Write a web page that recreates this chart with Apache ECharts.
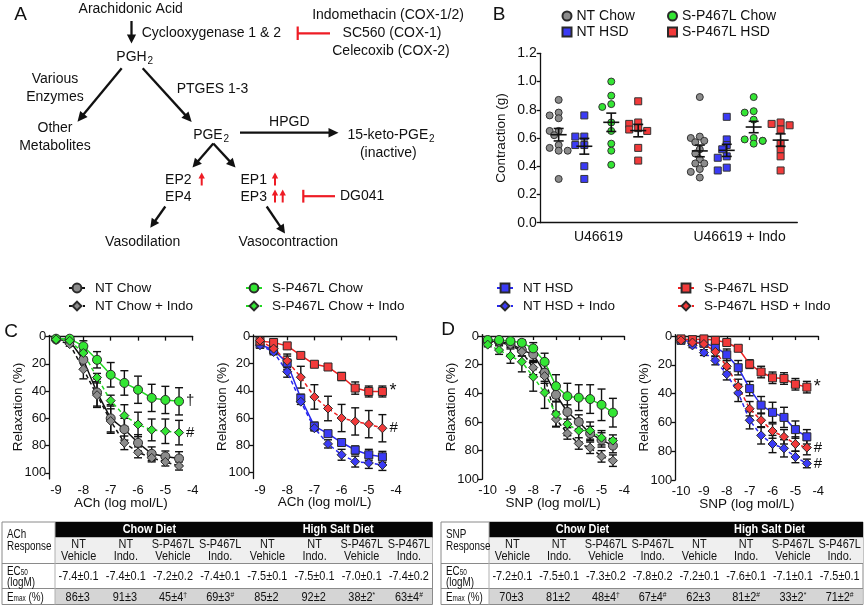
<!DOCTYPE html>
<html>
<head>
<meta charset="utf-8">
<script src="https://cdn.jsdelivr.net/npm/echarts@6/dist/echarts.min.js"></script>
<style>
html, body { margin: 0; padding: 0; background: #fff; }
#chart { width: 865px; height: 606px; }
</style>
</head>
<body>
<div id="chart"></div>
<script>
var FONT = 'Liberation Sans, Arial, Helvetica, sans-serif';

// ---- panel B : contraction to U46619 (g) ----
var bGroups = ['U46619', 'U46619 + Indo'];
var bNtChow      = [0.87, 0.78, 0.76, 0.74, 0.65, 0.65, 0.62, 0.55, 0.53, 0.51, 0.51, 0.31];
var bNtHsd       = [0.76, 0.61, 0.61, 0.55, 0.55, 0.40, 0.31];
var bSpChow      = [1.00, 0.90, 0.84, 0.82, 0.71, 0.65, 0.56, 0.51, 0.41];
var bSpHsd       = [0.86, 0.71, 0.70, 0.67, 0.66, 0.65, 0.53, 0.44];
var bNtChowIndo  = [0.89, 0.61, 0.60, 0.58, 0.57, 0.52, 0.49, 0.45, 0.42, 0.42, 0.38, 0.36, 0.32];
var bNtHsdIndo   = [0.75, 0.59, 0.55, 0.52, 0.47, 0.46, 0.39, 0.37];
var bSpChowIndo  = [0.89, 0.79, 0.78, 0.73, 0.60, 0.59, 0.58, 0.58, 0.56];
var bSpHsdIndo   = [0.71, 0.70, 0.69, 0.66, 0.56, 0.52, 0.47, 0.37];

// ---- panels C/D : relaxation (%) ----
var achDoses = [-9, -8.5, -8, -7.5, -7, -6.5, -6, -5.5, -5, -4.5];
var snpDoses = [-10, -9.5, -9, -8.5, -8, -7.5, -7, -6.5, -6, -5.5, -5, -4.5];

var achNtChow        = [2, 3, 17, 41, 60, 68, 78, 86, 88, 89.5];
var achNtChowSem     = [1, 1.5, 7, 10, 10, 8, 6, 5, 4, 5];
var achNtChowIndo    = [2.5, 5.5, 24, 43, 62, 78, 85, 89, 92, 95];
var achNtChowIndoSem = [1, 1.5, 7, 9, 9, 5, 4, 3, 3, 3];
var achSpChow        = [1.5, 1.5, 7, 17, 28, 34, 39, 45, 46.5, 47.5];
var achSpChowSem     = [1, 1, 4, 6, 9, 9, 10, 10, 10, 10];
var achSpChowIndo    = [2, 3, 12, 30, 47, 58, 64.5, 68.5, 69.5, 70.5];
var achSpChowIndoSem = [1, 1, 3, 3, 4, 8, 9, 8, 9, 9];

var achNtHsd         = [6, 10, 19.5, 45.5, 66, 71.5, 78, 83.5, 87, 88.5];
var achNtHsdSem      = [1.5, 2, 5, 3, 3, 2, 2, 3, 4, 4];
var achNtHsdIndo     = [6.5, 11.5, 26, 48, 67.5, 79, 87, 92, 93, 94.5];
var achNtHsdIndoSem  = [1.5, 2, 4, 2, 2, 3, 4, 4, 4, 4];
var achSpHsd         = [3.5, 4.5, 7, 14, 20.5, 22.5, 29.5, 38, 40.5, 40.5];
var achSpHsdSem      = [1, 1, 1.5, 2, 2, 2, 3, 4.5, 4, 4];
var achSpHsdIndo     = [3, 9, 18, 30, 44.5, 53, 60, 62.5, 64.5, 67.5];
var achSpHsdIndoSem  = [1, 2, 5, 8, 9, 9, 10, 10, 10, 10];

var snpNtChow        = [3.5, 4, 5, 9.8, 12.8, 25.6, 41, 53, 60, 68, 72.5, 76.5];
var snpNtChowSem     = [1, 1.5, 2, 4, 5, 6, 5, 5, 5, 5, 5, 5];
var snpNtChowIndo    = [4.5, 4.5, 6, 11, 22, 28, 58, 68, 75, 78, 84, 87];
var snpNtChowIndoSem = [1.5, 1.5, 2, 3, 5, 5, 5, 4, 4, 4, 4, 4];
var snpSpChow        = [2.8, 2.8, 3.5, 4.7, 8.6, 18, 35, 42, 43, 44, 48, 53.5];
var snpSpChowSem     = [1, 1, 1.5, 2, 4, 6, 8, 9, 9, 10, 11, 10];
var snpSpChowIndo    = [6, 9.8, 14, 18, 28.5, 39.5, 54.5, 61.5, 66, 66, 71, 73];
var snpSpChowIndoSem = [1.5, 3, 5, 7, 10, 11, 9, 8, 8, 6, 5, 4];

var snpNtHsd         = [3, 4, 5, 7.5, 13, 22, 36.5, 48, 53, 56.5, 65, 70];
var snpNtHsdSem      = [1, 1.5, 2, 2, 4, 5, 5, 6, 7, 7, 6, 5];
var snpNtHsdIndo     = [3, 6.5, 11.5, 17, 26.5, 39.5, 58.5, 69, 75, 78, 84, 88.5];
var snpNtHsdIndoSem  = [1, 1.5, 2, 3, 4, 6, 6, 6, 6, 6, 4, 3];
var snpSpHsd         = [2, 2.5, 2, 3, 4.5, 8.5, 19.5, 25, 29, 29.5, 33.5, 35.5];
var snpSpHsdSem      = [1, 1, 1, 1.5, 1.5, 2, 3, 4, 4, 4, 4, 4];
var snpSpHsdIndo     = [3, 4.5, 5.5, 11, 21, 35, 50.5, 58.5, 66, 70, 75, 77.5];
var snpSpHsdIndoSem  = [1, 1.5, 2, 3, 4, 5, 5, 5, 5, 5, 5, 5];

var achTicks = [-9, -8, -7, -6, -5, -4];
var snpTicks = [-10, -9, -8, -7, -6, -5, -4];
var relaxTicks = [0, 20, 40, 60, 80, 100];

// ---- tables ----
var tableDiets = ['Chow Diet', 'High Salt Diet'];
var tableColTop = ['NT', 'NT', 'S-P467L', 'S-P467L', 'NT', 'NT', 'S-P467L', 'S-P467L'];
var tableColBot = ['Vehicle', 'Indo.', 'Vehicle', 'Indo.', 'Vehicle', 'Indo.', 'Vehicle', 'Indo.'];
var achEc50 = ['-7.4±0.1', '-7.4±0.1', '-7.2±0.2', '-7.4±0.1', '-7.5±0.1', '-7.5±0.1', '-7.0±0.1', '-7.4±0.2'];
var achEmax = ['86±3', '91±3', '45±4', '69±3', '85±2', '92±2', '38±2', '63±4'];
var achEmaxMark = ['', '', '†', '#', '', '', '*', '#'];
var snpEc50 = ['-7.2±0.1', '-7.5±0.1', '-7.3±0.2', '-7.8±0.2', '-7.2±0.1', '-7.6±0.1', '-7.1±0.1', '-7.5±0.1'];
var snpEmax = ['70±3', '81±2', '48±4', '67±4', '62±3', '81±2', '33±2', '71±2'];
var snpEmaxMark = ['', '', '†', '#', '', '#', '*', '#'];

var styles = {
  'NT Chow':             { symbol: 'circle',  fill: '#8c8c8c', line: '#111111', dash: false },
  'NT Chow + Indo':      { symbol: 'diamond', fill: '#8c8c8c', line: '#111111', dash: true },
  'S-P467L Chow':        { symbol: 'circle',  fill: '#33e633', line: '#22d822', dash: false },
  'S-P467L Chow + Indo': { symbol: 'diamond', fill: '#33e633', line: '#22d822', dash: true },
  'NT HSD':              { symbol: 'rect',    fill: '#3b3bf5', line: '#2828ee', dash: false },
  'NT HSD + Indo':       { symbol: 'diamond', fill: '#3b3bf5', line: '#2828ee', dash: true },
  'S-P467L HSD':         { symbol: 'rect',    fill: '#f23a3a', line: '#ee2020', dash: false },
  'S-P467L HSD + Indo':  { symbol: 'diamond', fill: '#f23a3a', line: '#ee2020', dash: true }
};

function curve(name, axis, doses, vals, mark) {
  var s = styles[name];
  var ser = {
    type: 'line', name: name, xAxisIndex: axis, yAxisIndex: axis,
    data: doses.map(function (d, i) { return [d, vals[i]]; }),
    symbol: s.symbol, symbolSize: s.symbol === 'diamond' ? 9 : (s.symbol === 'rect' ? 8 : 9),
    showAllSymbol: true, z: 3,
    lineStyle: { color: s.line, width: 1.5, type: s.dash ? [4, 3] : 'solid' },
    itemStyle: { color: s.fill, borderColor: '#2a2a2a', borderWidth: 1 },
    emphasis: { disabled: true }
  };
  if (mark) {
    ser.endLabel = { show: true, formatter: mark, distance: 7, fontSize: mark === '*' ? 18 : 15, color: '#111', fontFamily: FONT };
  }
  return ser;
}

function errBars(axis, doses, sets) {
  var data = [];
  sets.forEach(function (s) {
    doses.forEach(function (d, i) { data.push([d, s[0][i], s[1][i]]); });
  });
  return {
    type: 'custom', xAxisIndex: axis, yAxisIndex: axis, z: 2, silent: true,
    data: data, encode: { x: 0, y: 1 },
    renderItem: function (params, api) {
      var x = api.value(0), y = api.value(1), e = api.value(2);
      var a = api.coord([x, y - e]), b = api.coord([x, y + e]);
      var st = { stroke: '#111', lineWidth: 1.4 };
      return { type: 'group', children: [
        { type: 'line', shape: { x1: a[0], y1: a[1], x2: b[0], y2: b[1] }, style: st },
        { type: 'line', shape: { x1: a[0] - 4, y1: a[1], x2: a[0] + 4, y2: a[1] }, style: st },
        { type: 'line', shape: { x1: b[0] - 4, y1: b[1], x2: b[0] + 4, y2: b[1] }, style: st }
      ] };
    }
  };
}

// beeswarm-ish spread for panel B dots
var B_PX_X = 25.66, B_PX_Y = 141.2;
function swarm(values, center) {
  var placed = [], out = [];
  var order = values.map(function (v, i) { return i; }).sort(function (a, b) { return values[b] - values[a]; });
  var steps = [0, -1, 1, -2, 2];
  order.forEach(function (i) {
    var v = values[i];
    for (var k = 0; k < steps.length; k++) {
      var dx = steps[k] * 4.5;
      var ok = placed.every(function (p) {
        var ddx = p[0] - dx, ddy = (p[1] - v) * B_PX_Y;
        return ddx * ddx + ddy * ddy >= 30;
      });
      if (ok || k === steps.length - 1) {
        placed.push([dx, v]);
        out.push([center + dx / B_PX_X, v]);
        break;
      }
    }
  });
  return out;
}
function meanSem(arr) {
  var n = arr.length, m = arr.reduce(function (a, b) { return a + b; }, 0) / n;
  var ss = arr.reduce(function (a, b) { return a + (b - m) * (b - m); }, 0);
  return [m, Math.sqrt(ss / (n - 1)) / Math.sqrt(n)];
}

var bSets = [
  ['NT Chow', bNtChow, bNtChowIndo, [0.7, 6.2]],
  ['NT HSD', bNtHsd, bNtHsdIndo, [1.7, 7.25]],
  ['S-P467L Chow', bSpChow, bSpChowIndo, [2.75, 8.3]],
  ['S-P467L HSD', bSpHsd, bSpHsdIndo, [3.8, 9.35]]
];
var bSeries = [], bMeans = [];
bSets.forEach(function (s) {
  var st = styles[s[0]];
  bSeries.push({
    type: 'scatter', name: s[0], xAxisIndex: 0, yAxisIndex: 0, z: 3,
    data: swarm(s[1], s[3][0]).concat(swarm(s[2], s[3][1])),
    symbol: st.symbol, symbolSize: 7,
    itemStyle: { color: st.fill, borderColor: '#333', borderWidth: 1, opacity: 1 },
    emphasis: { disabled: true }
  });
  var a = meanSem(s[1]), b = meanSem(s[2]);
  bMeans.push([s[3][0], a[0], a[1]], [s[3][1], b[0], b[1]]);
});
bSeries.push({
  type: 'custom', xAxisIndex: 0, yAxisIndex: 0, z: 4, silent: true,
  data: bMeans, encode: { x: 0, y: 1 },
  renderItem: function (params, api) {
    var x = api.value(0), m = api.value(1), e = api.value(2);
    var c = api.coord([x, m]), a = api.coord([x, m - e]), b = api.coord([x, m + e]);
    var st = { stroke: '#111', lineWidth: 1.6 };
    return { type: 'group', children: [
      { type: 'line', shape: { x1: c[0] - 8, y1: c[1], x2: c[0] + 8, y2: c[1] }, style: st },
      { type: 'line', shape: { x1: a[0], y1: a[1], x2: b[0], y2: b[1] }, style: st },
      { type: 'line', shape: { x1: a[0] - 5, y1: a[1], x2: a[0] + 5, y2: a[1] }, style: st },
      { type: 'line', shape: { x1: b[0] - 5, y1: b[1], x2: b[0] + 5, y2: b[1] }, style: st }
    ] };
  }
});

// ---- axes helpers ----
var axisLine = { show: true, lineStyle: { color: '#111', width: 1.3 } };
var axisTick = { show: true, length: 4, lineStyle: { color: '#111', width: 1.3 } };
function doseAxis(idx, min, ticks, name) {
  return {
    type: 'value', gridIndex: idx, min: min, max: -4, splitLine: { show: false },
    axisLine: axisLine,
    axisTick: { show: true, length: 4, lineStyle: { color: '#111', width: 1.3 }, customValues: ticks },
    axisLabel: { customValues: ticks, color: '#111', fontSize: 13, fontFamily: FONT, margin: 5 },
    name: name, nameLocation: 'middle', nameGap: 17, nameMoveOverlap: false,
    nameTextStyle: { color: '#111', fontSize: 13.5, fontFamily: FONT }
  };
}
function relaxAxis(idx, max) {
  return {
    type: 'value', gridIndex: idx, inverse: true, min: -1, max: max, splitLine: { show: false },
    axisLine: axisLine,
    axisTick: { show: true, length: 4, lineStyle: { color: '#111', width: 1.3 }, customValues: relaxTicks },
    axisLabel: { customValues: relaxTicks, color: '#111', fontSize: 13, fontFamily: FONT, margin: 3 },
    name: 'Relaxation (%)', nameLocation: 'middle', nameGap: 24, nameRotate: 90, nameMoveOverlap: false,
    nameTextStyle: { color: '#111', fontSize: 13.5, fontFamily: FONT }
  };
}

// ---- panel A diagram + tables (graphic) ----
var G = [];
function txt(x, y, s, size, align, color, weight, sx) {
  G.push({ type: 'text', x: x, y: y, z: 10, scaleX: sx || 1, style: {
    text: s, fill: color || '#111', fontSize: size, fontFamily: FONT, fontWeight: weight || 'normal',
    align: align || 'center', textAlign: align || 'center', verticalAlign: 'middle', textVerticalAlign: 'middle' } });
}
function rich(x, y, s, richDef, align, sx) {
  G.push({ type: 'text', x: x, y: y, z: 10, scaleX: sx || 1, style: {
    text: s, rich: richDef, fill: '#111', fontFamily: FONT,
    align: align || 'center', textAlign: align || 'center', verticalAlign: 'middle', textVerticalAlign: 'middle' } });
}
function seg(x1, y1, x2, y2, color, w) {
  G.push({ type: 'line', z: 10, shape: { x1: x1, y1: y1, x2: x2, y2: y2 }, style: { stroke: color, lineWidth: w } });
}
function arrow(x1, y1, x2, y2, color, w, hl, hw) {
  var dx = x2 - x1, dy = y2 - y1, L = Math.sqrt(dx * dx + dy * dy), ux = dx / L, uy = dy / L;
  var bx = x2 - ux * hl, by = y2 - uy * hl;
  seg(x1, y1, bx + ux, by + uy, color, w);
  G.push({ type: 'polygon', z: 10, shape: { points: [[x2, y2], [bx - uy * hw, by + ux * hw], [bx + uy * hw, by - ux * hw]] },
    style: { fill: color } });
}
function block(x, y1, y2, x2, y, color) {
  seg(x, y1, x, y2, color, 2.2);
  seg(x, y, x2, y, color, 2.2);
}
var RED = '#ee1c25';
var AF = 14;
txt(20.5, 15, 'A', 19);
txt(499, 15, 'B', 19);
txt(11, 331.5, 'C', 19);
txt(448, 330, 'D', 19);

txt(130.7, 9, 'Arachidonic Acid', AF);
arrow(131.5, 21, 131.5, 43.5, '#111', 2.3, 9, 4.6);
txt(141.7, 33.3, 'Cyclooxygenase 1 & 2', AF, 'left');
block(297.7, 26.5, 40, 330, 33.3, RED);
txt(388, 15, 'Indomethacin (COX-1/2)', AF);
txt(392, 33.3, 'SC560 (COX-1)', AF);
txt(391, 51.5, 'Celecoxib (COX-2)', AF);
txt(146.7, 57, 'PGH', AF, 'right');
txt(147.5, 61, '2', 10, 'left');
txt(55, 79, 'Various', AF);
txt(55, 97, 'Enzymes', AF);
arrow(121.7, 68.3, 77.5, 121.7, '#111', 2.3, 10, 4.8);
arrow(142.7, 68.3, 191.7, 122, '#111', 2.3, 10, 4.8);
txt(212.5, 89.3, 'PTGES 1-3', AF);
txt(55, 128.3, 'Other', AF);
txt(55, 145.7, 'Metabolites', AF);
txt(222.7, 135, 'PGE', AF, 'right');
txt(223.5, 139, '2', 10, 'left');
arrow(240, 132.7, 338.5, 132.7, '#111', 2.3, 10, 4.8);
txt(289.3, 122.3, 'HPGD', AF);
txt(428.3, 135, '15-keto-PGE', AF, 'right');
txt(429, 139, '2', 10, 'left');
txt(388.3, 152.7, '(inactive)', AF);
arrow(213.3, 143.5, 192.5, 167.5, '#111', 2.3, 9, 4.6);
arrow(213.3, 143.5, 235.5, 167.5, '#111', 2.3, 9, 4.6);
txt(178.3, 180, 'EP2', AF);
txt(178.3, 196.7, 'EP4', AF);
txt(253.7, 180, 'EP1', AF);
txt(253.7, 196.7, 'EP3', AF);
arrow(201.7, 185.5, 201.7, 172.5, RED, 2, 6, 3.2);
arrow(275, 185.5, 275, 172.5, RED, 2, 6, 3.2);
arrow(275, 202.5, 275, 189.5, RED, 2, 6, 3.2);
arrow(282.7, 202.5, 282.7, 189.5, RED, 2, 6, 3.2);
block(303.3, 189.8, 202.6, 335, 196.2, RED);
txt(340, 196.2, 'DG041', AF, 'left');
arrow(165.3, 206.5, 150.3, 227.8, '#111', 2.3, 9, 4.6);
arrow(266.7, 206.5, 285, 233.5, '#111', 2.3, 9, 4.6);
txt(142.7, 241.7, 'Vasodilation', AF);
txt(288.3, 241.7, 'Vasocontraction', AF);

var TF = 13;     // table font size
var TS = 0.84;   // table text is horizontally condensed
var TL = 0.76;   // label column is even tighter
function table(x0, x1, labW, lab1, ec, emax, marks) {
  var top = 522, h1 = 537.5, h2 = 563.5, h3 = 588.5, bot = 604.5;
  var dx0 = x0 + labW, colW = (x1 - dx0) / 8;
  var sub = { a: { fontSize: TF, fontFamily: FONT }, b: { fontSize: 8.5, fontFamily: FONT, verticalAlign: 'bottom' } };
  G.push({ type: 'rect', z: 5, shape: { x: x0, y: top, width: x1 - x0, height: bot - top }, style: { fill: '#fff', stroke: '#8a8a8a', lineWidth: 1 } });
  G.push({ type: 'rect', z: 6, shape: { x: dx0, y: top, width: x1 - dx0, height: h1 - top }, style: { fill: '#050505' } });
  G.push({ type: 'rect', z: 6, shape: { x: dx0, y: h1, width: x1 - dx0, height: h2 - h1 }, style: { fill: '#efefef' } });
  G.push({ type: 'rect', z: 6, shape: { x: dx0, y: h3, width: x1 - dx0 - 0.5, height: bot - h3 - 0.5 }, style: { fill: '#d5d5d5' } });
  seg(x0, h2, x1, h2, '#8a8a8a', 1);
  seg(x0, h3, x1, h3, '#8a8a8a', 1);
  seg(dx0, top, dx0, bot, '#b0b0b0', 1);
  txt(dx0 + colW * 2, 529.8, tableDiets[0], TF, 'center', '#fff', 'bold', TS);
  txt(dx0 + colW * 6, 529.8, tableDiets[1], TF, 'center', '#fff', 'bold', TS);
  txt(x0 + 5, 534.5, lab1, TF, 'left', null, null, TL);
  txt(x0 + 5, 546.5, 'Response', TF, 'left', null, null, TL);
  rich(x0 + 5, 571, '{a|EC}{b|50}', sub, 'left', TL);
  txt(x0 + 5, 582, '(logM)', TF, 'left', null, null, TL);
  rich(x0 + 5, 597, '{a|E}{b|max}{a| (%)}', sub, 'left', TL);
  for (var i = 0; i < 8; i++) {
    var cx = dx0 + colW * (i + 0.5);
    txt(cx, 544.5, tableColTop[i], TF, 'center', null, null, TS);
    txt(cx, 556, tableColBot[i], TF, 'center', null, null, TS);
    txt(cx, 576.5, ec[i], TF, 'center', null, null, TS);
    rich(cx, 597, '{a|' + emax[i] + '}{b|' + (marks[i] || ' ') + '}',
      { a: { fontSize: TF, fontFamily: FONT }, b: { fontSize: 8, fontFamily: FONT, verticalAlign: 'top' } }, 'center', TS);
  }
}
table(2, 432.5, 53, 'ACh', achEc50, achEmax, achEmaxMark);
table(441, 863, 48, 'SNP', snpEc50, snpEmax, snpEmaxMark);

// ---- legends ----
function lineLegend(left, names) {
  return {
    orient: 'vertical', left: left, top: 281, padding: 0, itemWidth: 16, itemHeight: 11, itemGap: 4,
    selectedMode: false, data: names,
    textStyle: { color: '#111', fontSize: 13.5, fontFamily: FONT, padding: [0, 0, 0, 5] }
  };
}
function dotLegend(left, items) {
  return {
    orient: 'vertical', left: left, top: 9, padding: 0, itemWidth: 9, itemHeight: 9, itemGap: 2,
    selectedMode: false, data: items,
    textStyle: { color: '#111', fontSize: 14, fontFamily: FONT, padding: [0, 0, 0, 0] }
  };
}

var myChart = echarts.init(document.getElementById('chart'));
var option = {
  animation: false,
  backgroundColor: '#fff',
  textStyle: { fontFamily: FONT },
  legend: [
    lineLegend(68, ['NT Chow', 'NT Chow + Indo']),
    lineLegend(245, ['S-P467L Chow', 'S-P467L Chow + Indo']),
    lineLegend(496, ['NT HSD', 'NT HSD + Indo']),
    lineLegend(677, ['S-P467L HSD', 'S-P467L HSD + Indo']),
    dotLegend(561.5, [{ name: 'NT Chow', icon: 'circle' }, { name: 'NT HSD', icon: 'rect' }]),
    dotLegend(667, [{ name: 'S-P467L Chow', icon: 'circle' }, { name: 'S-P467L HSD', icon: 'rect' }])
  ],
  grid: [
    { left: 540.7, top: 53.3, width: 256.6, height: 169.4 },
    { left: 49.2, top: 335.3, width: 143.5, height: 143.6 },
    { left: 253.2, top: 335, width: 142.8, height: 143.6 },
    { left: 482, top: 334.6, width: 142.3, height: 144.7 },
    { left: 675.3, top: 334.6, width: 143, height: 145.4 }
  ],
  xAxis: [
    {
      type: 'value', gridIndex: 0, min: 0, max: 10, splitLine: { show: false },
      axisLine: axisLine, axisTick: { show: false },
      axisLabel: {
        customValues: [2.25, 7.75], color: '#111', fontSize: 14, fontFamily: FONT, margin: 7,
        formatter: function (v) { return v < 5 ? bGroups[0] : bGroups[1]; }
      }
    },
    doseAxis(1, -9.25, achTicks, 'ACh (log mol/L)'),
    doseAxis(2, -9.25, achTicks, 'ACh (log mol/L)'),
    doseAxis(3, -10.25, snpTicks, 'SNP (log mol/L)'),
    doseAxis(4, -10.25, snpTicks, 'SNP (log mol/L)')
  ],
  yAxis: [
    {
      type: 'value', gridIndex: 0, min: 0, max: 1.2, interval: 0.2, splitLine: { show: false },
      axisLine: axisLine, axisTick: axisTick,
      axisLabel: { color: '#111', fontSize: 14, fontFamily: FONT, margin: 4, formatter: function (v) { return v.toFixed(1); } },
      name: 'Contraction (g)', nameLocation: 'middle', nameGap: 32, nameRotate: 90, nameMoveOverlap: false,
      nameTextStyle: { color: '#111', fontSize: 13.5, fontFamily: FONT }
    },
    relaxAxis(1, 104.5),
    relaxAxis(2, 104.5),
    relaxAxis(3, 100),
    relaxAxis(4, 100)
  ],
  series: [
    curve('NT Chow', 1, achDoses, achNtChow),
    curve('NT Chow + Indo', 1, achDoses, achNtChowIndo),
    curve('S-P467L Chow', 1, achDoses, achSpChow, '†'),
    curve('S-P467L Chow + Indo', 1, achDoses, achSpChowIndo, '#'),
    curve('NT HSD', 2, achDoses, achNtHsd),
    curve('NT HSD + Indo', 2, achDoses, achNtHsdIndo),
    curve('S-P467L HSD', 2, achDoses, achSpHsd, '*'),
    curve('S-P467L HSD + Indo', 2, achDoses, achSpHsdIndo, '#'),
    curve('NT Chow', 3, snpDoses, snpNtChow),
    curve('NT Chow + Indo', 3, snpDoses, snpNtChowIndo),
    curve('S-P467L Chow', 3, snpDoses, snpSpChow),
    curve('S-P467L Chow + Indo', 3, snpDoses, snpSpChowIndo),
    curve('NT HSD', 4, snpDoses, snpNtHsd),
    curve('NT HSD + Indo', 4, snpDoses, snpNtHsdIndo, '#'),
    curve('S-P467L HSD', 4, snpDoses, snpSpHsd, '*'),
    curve('S-P467L HSD + Indo', 4, snpDoses, snpSpHsdIndo, '#'),
    errBars(1, achDoses, [[achNtChow, achNtChowSem], [achNtChowIndo, achNtChowIndoSem], [achSpChow, achSpChowSem], [achSpChowIndo, achSpChowIndoSem]]),
    errBars(2, achDoses, [[achNtHsd, achNtHsdSem], [achNtHsdIndo, achNtHsdIndoSem], [achSpHsd, achSpHsdSem], [achSpHsdIndo, achSpHsdIndoSem]]),
    errBars(3, snpDoses, [[snpNtChow, snpNtChowSem], [snpNtChowIndo, snpNtChowIndoSem], [snpSpChow, snpSpChowSem], [snpSpChowIndo, snpSpChowIndoSem]]),
    errBars(4, snpDoses, [[snpNtHsd, snpNtHsdSem], [snpNtHsdIndo, snpNtHsdIndoSem], [snpSpHsd, snpSpHsdSem], [snpSpHsdIndo, snpSpHsdIndoSem]])
  ].concat(bSeries),
  graphic: G
};
myChart.setOption(option);
</script>
</body>
</html>
